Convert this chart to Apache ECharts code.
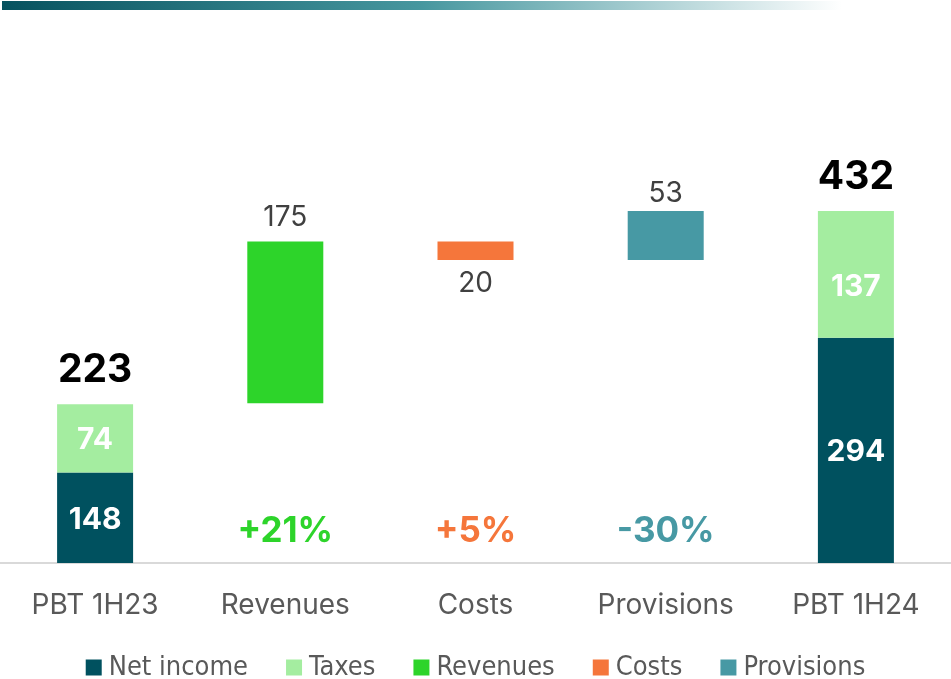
<!DOCTYPE html>
<html>
<head>
<meta charset="utf-8">
<script src="https://cdn.jsdelivr.net/npm/echarts@6/dist/echarts.min.js"></script>
<style>
    html, body { margin: 0; padding: 0; background: #fff; }
    #chart { width: 951px; height: 679px; }
</style>
</head>
<body>
<div id="chart"></div>
<script>
// waterfall PBT 1H23 -> PBT 1H24
var categories = ['PBT 1H23', 'Revenues', 'Costs', 'Provisions', 'PBT 1H24'];
var netIncome = [148, '-', '-', '-', 294];
var taxes = [74, '-', '-', '-', 137];
var base = ['-', 223, 378, 378, '-'];
var revenues = ['-', 175, '-', '-', '-'];
var costs = ['-', '-', 20, '-', '-'];
var provisions = ['-', '-', '-', 53, '-'];
var totals = [223, '-', '-', '-', 432];
var changes = ['', '+21%', '+5%', '-30%', ''];

var colors = {
    net: '#00515f',
    tax: '#a4eda0',
    rev: '#2dd42a',
    cost: '#f5763b',
    prov: '#4799a4'
};

var font = 'Inter, Roboto, sans-serif';
var grayLabel = { show: true, position: 'top', distance: 10, color: '#404040', fontSize: 28, fontFamily: font };
var whiteLabel = { show: true, position: 'inside', offset: [0, 2], color: '#fff', fontSize: 30, fontWeight: 'bold', fontFamily: font };

var changeColors = ['#000', colors.rev, colors.cost, colors.prov, '#000'];
var changeData = changes.map(function (c, i) {
    return c ? { value: 84, label: { color: changeColors[i] } } : '-';
});

var taxData = taxes.map(function (v, i) {
    // the 1H24 taxes label sits a bit low in the original
    return i === 4 ? { value: v, label: { offset: [0, 13] } } : v;
});

var myChart = echarts.init(document.getElementById('chart'));
var option = {
    animation: false,
    graphic: [{
        type: 'rect',
        shape: { x: 2, y: 1, width: 840, height: 9 },
        style: {
            fill: new echarts.graphic.LinearGradient(0, 0, 1, 0, [
                { offset: 0, color: '#07525f' },
                { offset: 0.5, color: '#47979f' },
                { offset: 1, color: 'rgba(255,255,255,1)' }
            ])
        }
    }],
    legend: {
        top: 649,
        left: 'center',
        data: ['Net income', 'Taxes', 'Revenues', 'Costs', 'Provisions'],
        icon: 'rect',
        itemWidth: 16,
        itemHeight: 16,
        itemGap: 38,
        textStyle: {
            color: '#595959', fontSize: 27, padding: [0, 0, 0, 2],
            fontFamily: '"Liberation Sans Narrow", "DejaVu Sans Condensed", sans-serif'
        }
    },
    grid: {
        left: 0,
        right: 0,
        top: 55,
        bottom: 116
    },
    xAxis: {
        type: 'category',
        data: categories,
        axisLine: { lineStyle: { color: '#d9d9d9', width: 2 } },
        axisTick: { show: false },
        axisLabel: { color: '#595959', fontSize: 28, margin: 29, fontFamily: font }
    },
    yAxis: {
        type: 'value',
        min: 50,
        max: 600,
        show: false,
        splitLine: { show: false }
    },
    series: [
        {
            name: 'Net income', type: 'bar', stack: 'w', barWidth: 76,
            itemStyle: { color: colors.net }, label: whiteLabel, data: netIncome
        },
        {
            name: 'Taxes', type: 'bar', stack: 'w',
            itemStyle: { color: colors.tax }, label: whiteLabel, data: taxData
        },
        {
            name: 'Base', type: 'bar', stack: 'w',
            itemStyle: { color: 'transparent' }, data: base
        },
        {
            name: 'Revenues', type: 'bar', stack: 'w',
            itemStyle: { color: colors.rev }, label: grayLabel, data: revenues
        },
        {
            name: 'Costs', type: 'bar', stack: 'w',
            itemStyle: { color: colors.cost },
            label: Object.assign({}, grayLabel, { position: 'bottom', distance: 10 }),
            data: costs
        },
        {
            name: 'Provisions', type: 'bar', stack: 'w',
            itemStyle: { color: colors.prov },
            label: Object.assign({}, grayLabel, { distance: 4 }),
            data: provisions
        },
        {
            name: 'Total', type: 'bar', stack: 'w',
            itemStyle: { color: 'transparent' },
            label: {
                show: true, position: 'top', distance: 14, color: '#000',
                fontSize: 39, fontWeight: 'bold', fontFamily: font,
                formatter: function (p) { return totals[p.dataIndex]; }
            },
            data: totals.map(function (t) { return t === '-' ? '-' : 0; })
        },
        {
            name: 'Change', type: 'scatter', symbolSize: 0,
            itemStyle: { opacity: 1 },
            label: {
                show: true, position: 'inside', fontSize: 35, fontWeight: 'bold', fontFamily: font,
                formatter: function (p) { return changes[p.dataIndex]; }
            },
            data: changeData
        }
    ]
};
myChart.setOption(option);
</script>
</body>
</html>
